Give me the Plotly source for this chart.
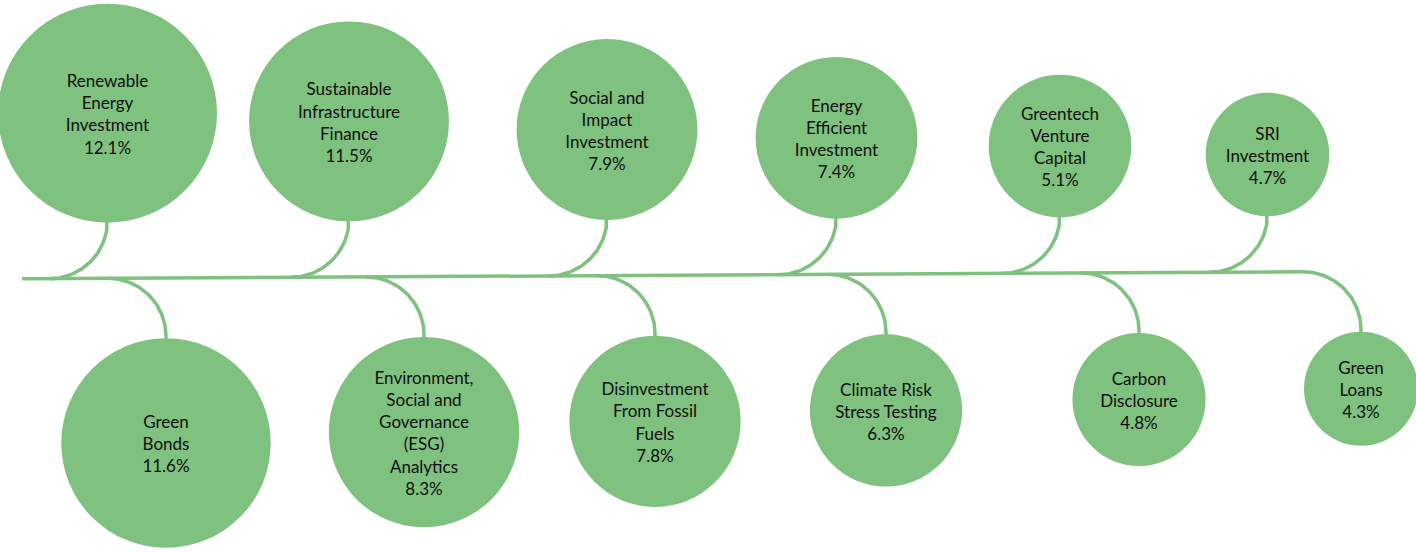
import numpy as np
import plotly.graph_objects as go

# ---------------- data ----------------
top_labels = ["Renewable<br>Energy<br>Investment", "Sustainable<br>Infrastructure<br>Finance",
              "Social and<br>Impact<br>Investment", "Energy<br>Efficient<br>Investment",
              "Greentech<br>Venture<br>Capital", "SRI<br>Investment"]
top_values = [12.1, 11.5, 7.9, 7.4, 5.1, 4.7]

bottom_labels = ["Green<br>Bonds", "Environment,<br>Social and<br>Governance<br>(ESG)<br>Analytics",
                 "Disinvestment<br>From Fossil<br>Fuels", "Climate Risk<br>Stress Testing",
                 "Carbon<br>Disclosure", "Green<br>Loans"]
bottom_values = [11.6, 8.3, 7.8, 6.3, 4.8, 4.3]

# ---------------- layout (diagram geometry) ----------------
W, H = 1416, 552
GREEN = "#7FC17F"
TEXT = "#0f0f0f"
top_slots = [107.5, 349, 607, 836.5, 1060, 1267.5]      # horizontal slots of the upper row
bottom_slots = [166, 424, 655, 886, 1139, 1361]         # horizontal slots of the lower row
LINE_X0, LINE_Y0, LINE_SLOPE = 22, 278.8, -0.0055
ARC = 58            # radius of connector bends
TOP_GAP, BOTTOM_GAP = 56, 60
R_MAX, R_STEP = 109.5, 4.77
TEXT_SHIFT = 3


def line_y(x):
    return LINE_Y0 + LINE_SLOPE * (x - LINE_X0)


# size of every bubble follows the rank of its value
all_values = top_values + bottom_values
order = sorted(all_values, reverse=True)


def radius(v):
    return R_MAX - R_STEP * order.index(v)


lx, ly = [], []
# main spine
x_end = bottom_slots[-1] - ARC
lx += [LINE_X0, x_end, None]
ly += [line_y(LINE_X0), line_y(x_end), None]

t = np.linspace(0, np.pi / 2, 40)
cx_list, cy_list, r_list, txt = [], [], [], []
for lab, v, cx in zip(top_labels, top_values, top_slots):
    r = radius(v)
    yl = line_y(cx - ARC)
    cy = yl - TOP_GAP - r
    ccx, ccy = cx - ARC, yl - ARC
    lx += [cx] + list(ccx + ARC * np.cos(t)) + [None]
    ly += [cy] + list(ccy + ARC * np.sin(t)) + [None]
    cx_list.append(cx); cy_list.append(cy); r_list.append(r)
    txt.append(f"{lab}<br>{v}%")

t2 = np.linspace(-np.pi / 2, 0, 40)
for lab, v, cx in zip(bottom_labels, bottom_values, bottom_slots):
    r = radius(v)
    yl = line_y(cx - ARC)
    cy = yl + BOTTOM_GAP + r
    ccx, ccy = cx - ARC, yl + ARC
    lx += list(ccx + ARC * np.cos(t2)) + [cx, None]
    ly += list(ccy + ARC * np.sin(t2)) + [cy, None]
    cx_list.append(cx); cy_list.append(cy); r_list.append(r)
    txt.append(f"{lab}<br>{v}%")

fig = go.Figure()
fig.add_trace(go.Scatter(x=lx, y=ly, mode="lines", line=dict(color=GREEN, width=3.5),
                         hoverinfo="skip", showlegend=False))
fig.add_trace(go.Scatter(x=cx_list, y=cy_list, mode="markers",
                         marker=dict(size=[2 * r for r in r_list], color=GREEN, line=dict(width=0),
                                     opacity=1),
                         hoverinfo="skip", showlegend=False))
fig.add_trace(go.Scatter(x=cx_list, y=[c + TEXT_SHIFT for c in cy_list], mode="text",
                         text=txt, textposition="middle center",
                         textfont=dict(family="Lato", size=17, color=TEXT),
                         hoverinfo="skip", showlegend=False))

fig.update_layout(width=W, height=H, autosize=False,
                  margin=dict(l=0, r=0, t=0, b=0),
                  paper_bgcolor="white", plot_bgcolor="white",
                  xaxis=dict(range=[0, W], visible=False, fixedrange=True),
                  yaxis=dict(range=[H, 0], visible=False, fixedrange=True),
                  showlegend=False)

fig.write_html("out.html", config={"displayModeBar": False},
               post_script="document.body.style.margin='0';")
